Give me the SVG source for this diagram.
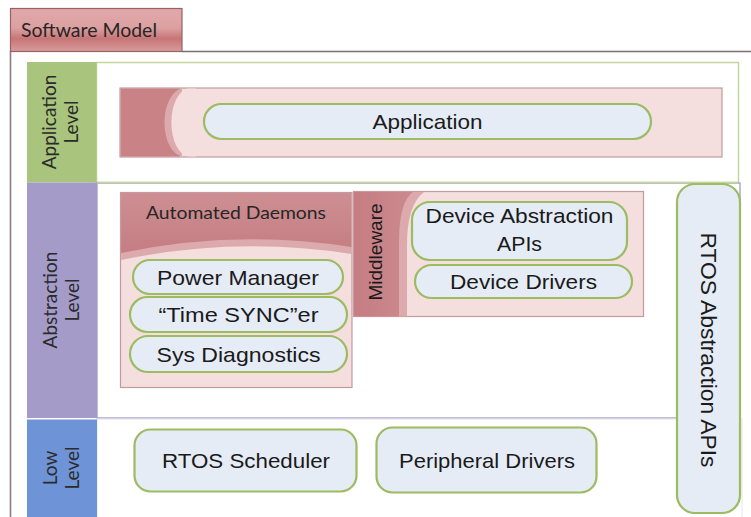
<svg xmlns="http://www.w3.org/2000/svg" width="751" height="517" viewBox="0 0 751 517">
  <defs>
    <linearGradient id="tabFill" x1="0" y1="0" x2="0" y2="1">
      <stop offset="0" stop-color="#e2a9aa"/>
      <stop offset="0.45" stop-color="#dca0a1"/>
      <stop offset="0.7" stop-color="#c77576"/>
      <stop offset="1" stop-color="#d99b9c"/>
    </linearGradient>
    <linearGradient id="hdrFill" x1="0" y1="0" x2="0" y2="1">
      <stop offset="0" stop-color="#cd8f93"/>
      <stop offset="1" stop-color="#c57d82"/>
    </linearGradient>
    <linearGradient id="mwFill" x1="0" y1="0" x2="1" y2="0">
      <stop offset="0" stop-color="#c57d82"/>
      <stop offset="1" stop-color="#cc8a8e"/>
    </linearGradient>
  </defs>
  <style>
    .pill { fill: #e5ecf6; stroke: #9dbb61; stroke-width: 2.2; }
    .pale { fill: #f4dede; stroke: #c49a9c; stroke-width: 1.2; }
    .mid { fill: #dcaaac; }
    .dark { fill: #c98286; }
    .t { font-family: "Liberation Sans", Arial, sans-serif; fill: #1a1a1a; text-anchor: middle; }
    .c { font-family: Lato, "Open Sans", sans-serif; fill: #262626; }
    .lvl { font-family: Lato, "Open Sans", sans-serif; fill: #2b2b2b; font-size: 19px; text-anchor: middle; }
  </style>

  <!-- page background -->
  <rect x="0" y="0" width="751" height="517" fill="#ffffff"/>

  <!-- outer frame and title tab -->
  <g id="frame">
    <line x1="10.5" y1="51" x2="10.5" y2="517" stroke="#8e7e7f" stroke-width="1.6"/>
    <line x1="182" y1="51.5" x2="751" y2="51.5" stroke="#7d7071" stroke-width="1.6"/>
    <rect x="10.5" y="8.5" width="171.5" height="43" fill="url(#tabFill)" stroke="#946364" stroke-width="1.2"/>
    <text class="c" x="21" y="37" font-size="19" textLength="136" lengthAdjust="spacingAndGlyphs">Software Model</text>
  </g>

  <!-- application level band -->
  <g id="application-level">
    <rect x="96.5" y="62.5" width="642" height="120" fill="#ffffff" stroke="#c3d69b" stroke-width="1.5"/>
    <rect x="27" y="62" width="69.5" height="120.5" fill="#a8c47d"/>
    <text class="lvl" transform="translate(56,122) rotate(-90)">Application</text>
    <text class="lvl" transform="translate(78,122) rotate(-90)">Level</text>
  </g>

  <!-- abstraction level band -->
  <g id="abstraction-level">
    <rect x="97" y="183" width="643" height="235" fill="none" stroke="#aaa2c9" stroke-width="1.4"/>
    <line x1="97" y1="182.5" x2="738" y2="182.5" stroke="#c3d69b" stroke-width="1.5"/>
    <rect x="27" y="182.5" width="70" height="235.5" fill="#a49bc8"/>
    <text class="lvl" transform="translate(57,300) rotate(-90)">Abstraction</text>
    <text class="lvl" transform="translate(79,300) rotate(-90)">Level</text>
  </g>

  <!-- low level band -->
  <g id="low-level">
    <rect x="97" y="419" width="645" height="110" fill="none" stroke="#e3e6ef" stroke-width="1"/>
    <rect x="27" y="419.5" width="70" height="97.5" fill="#6e94d7"/>
    <text class="lvl" transform="translate(57,468) rotate(-90)">Low</text>
    <text class="lvl" transform="translate(79,468) rotate(-90)">Level</text>
  </g>

  <!-- application banner -->
  <g id="application">
    <rect class="pale" x="120" y="88" width="602" height="69"/>
    <path class="dark" d="M120.6,88.6 H180 V156.4 H120.6 Z"/>
    <path class="mid" d="M182,88.6 A19,34 0 0 0 182,156.4 Z"/>
    <path fill="#f4dede" d="M188,88.6 A18,34 0 0 0 188,156.4 H196 V88.6 Z"/>
    <rect class="pill" x="204" y="104" width="447" height="35" rx="17.5"/>
    <text class="t" x="427.5" y="129" font-size="21" textLength="110" lengthAdjust="spacingAndGlyphs">Application</text>
  </g>

  <!-- automated daemons -->
  <g id="automated-daemons">
    <rect class="pale" x="120.5" y="192.5" width="231.5" height="195"/>
    <path class="mid" d="M121.1,193.1 H351.4 V254 Q236,236 121.1,260 Z"/>
    <path fill="url(#hdrFill)" d="M121.1,193.1 H351.4 V247 Q236,229 121.1,253 Z"/>
    <text class="c" x="236" y="219" font-size="16.5" text-anchor="middle" textLength="180" lengthAdjust="spacingAndGlyphs">Automated Daemons</text>
  </g>
  <g id="power-manager">
    <rect class="pill" x="133" y="260" width="210" height="34" rx="17"/>
    <text class="t" x="238" y="284.5" font-size="21" textLength="162" lengthAdjust="spacingAndGlyphs">Power Manager</text>
  </g>
  <g id="time-syncer">
    <rect class="pill" x="130" y="297" width="217" height="35" rx="17.5"/>
    <text class="t" x="238.5" y="322" font-size="21" textLength="160" lengthAdjust="spacingAndGlyphs">“Time SYNC”er</text>
  </g>
  <g id="sys-diagnostics">
    <rect class="pill" x="130" y="336" width="217" height="36" rx="18"/>
    <text class="t" x="238.5" y="361.5" font-size="21" textLength="164" lengthAdjust="spacingAndGlyphs">Sys Diagnostics</text>
  </g>

  <!-- middleware -->
  <g id="middleware">
    <rect class="pale" x="353.5" y="191.5" width="290" height="125"/>
    <path class="mid" d="M354.1,192.1 H424 Q407,205 407,245 V316.4 H354.1 Z"/>
    <path fill="url(#mwFill)" d="M354.1,192.1 H413 Q399,202 399,242 V316.4 H354.1 Z"/>
    <text class="t" transform="translate(382,252) rotate(-90)" font-size="19">Middleware</text>
  </g>
  <g id="device-abstraction-apis">
    <rect class="pill" x="412" y="202" width="215" height="58" rx="18"/>
    <text class="t" x="519.5" y="223" font-size="20.5" textLength="188" lengthAdjust="spacingAndGlyphs">Device Abstraction</text>
    <text class="t" x="519.5" y="251" font-size="20.5" textLength="45" lengthAdjust="spacingAndGlyphs">APIs</text>
  </g>
  <g id="device-drivers">
    <rect class="pill" x="415" y="265" width="217" height="33" rx="16.5"/>
    <text class="t" x="523.5" y="288.5" font-size="20.5" textLength="147" lengthAdjust="spacingAndGlyphs">Device Drivers</text>
  </g>

  <!-- vertical RTOS abstraction column -->
  <g id="rtos-abstraction-apis">
    <rect class="pill" x="677" y="184" width="63" height="329" rx="18"/>
    <text class="t" transform="translate(701,350) rotate(90)" font-size="22" textLength="235" lengthAdjust="spacingAndGlyphs">RTOS Abstraction APIs</text>
  </g>

  <!-- low level blocks -->
  <g id="rtos-scheduler">
    <rect class="pill" x="134.5" y="429.5" width="222" height="62" rx="16"/>
    <text class="t" x="246" y="467.5" font-size="21" textLength="168" lengthAdjust="spacingAndGlyphs">RTOS Scheduler</text>
  </g>
  <g id="peripheral-drivers">
    <rect class="pill" x="376.5" y="427.5" width="220" height="65" rx="16"/>
    <text class="t" x="487" y="467.5" font-size="21" textLength="176" lengthAdjust="spacingAndGlyphs">Peripheral Drivers</text>
  </g>

  <!-- no connectors in this model -->
  <g id="connectors"/>
</svg>
